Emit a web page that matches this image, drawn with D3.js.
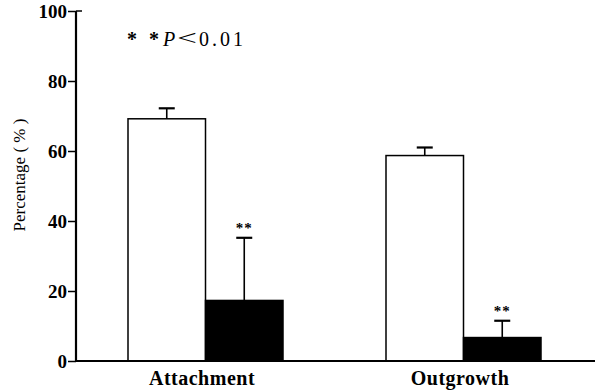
<!DOCTYPE html>
<html><head><meta charset="utf-8">
<script src="https://cdn.jsdelivr.net/npm/d3@7"></script>
<style>body{margin:0;background:#fff}svg{display:block}</style>
</head><body>
<script>
const categories = ["Attachment", "Outgrowth"];
const series = ["Control", "Treated"];
const means = [[69.2, 17.3], [58.7, 6.7]];
const errors = [[3.0, 17.9], [2.3, 4.8]];
const significant = [[false, true], [false, true]];
const yTicks = [0, 20, 40, 60, 80, 100];

const W = 603, H = 392;
const svg = d3.select("body").append("svg").attr("width", W).attr("height", H);
const font = "'Liberation Serif','DejaVu Serif',serif";

const y = d3.scaleLinear().domain([0, 100]).range([361, 11]);
const x0 = d3.scalePoint().domain(categories).range([205, 463]);
const x1 = d3.scaleBand().domain(series).range([-77, 78]).paddingInner(0);
const fills = ["#fff", "#000"];

categories.forEach((c, i) => {
  series.forEach((s, j) => {
    const bx = x0(c) + x1(s);
    const v = means[i][j], e = errors[i][j];
    const cx = bx + x1.bandwidth() / 2;
    svg.append("line").attr("x1", cx).attr("x2", cx).attr("y1", y(v)).attr("y2", y(v + e))
      .attr("stroke", "#000").attr("stroke-width", 1.6);
    svg.append("line").attr("x1", cx - 8).attr("x2", cx + 8).attr("y1", y(v + e)).attr("y2", y(v + e))
      .attr("stroke", "#000").attr("stroke-width", 2.2);
    svg.append("rect").attr("x", bx).attr("y", y(v)).attr("width", x1.bandwidth()).attr("height", y(0) - y(v))
      .attr("fill", fills[j]).attr("stroke", "#000").attr("stroke-width", 1.5);
    if (significant[i][j]) {
      svg.append("text").attr("x", cx).attr("y", y(v + e) - 5).attr("text-anchor", "middle")
        .attr("font-family", font).attr("font-weight", "bold").attr("font-size", 15)
        .attr("letter-spacing", 1).attr("fill", "#000").text("**");
    }
  });
});

// y axis
const yAxis = svg.append("g").attr("transform", "translate(76,0)")
  .call(d3.axisLeft(y).tickValues(yTicks).tickSize(8).tickPadding(1));
yAxis.attr("font-family", font);
yAxis.select(".domain").attr("stroke", "#000").attr("stroke-width", 2.2).attr("d", "M0," + y(100) + "V" + y(0));
yAxis.selectAll(".tick line").attr("stroke", "#000").attr("stroke-width", 1.5);
yAxis.selectAll(".tick text").attr("font-family", font).attr("font-size", 19).attr("font-weight", "bold").attr("fill", "#000");
svg.append("line").attr("x1", 76).attr("x2", 82).attr("y1", y(100)).attr("y2", y(100)).attr("stroke", "#000").attr("stroke-width", 1.5);

// x axis
svg.append("line").attr("x1", 75).attr("x2", 595).attr("y1", y(0)).attr("y2", y(0))
  .attr("stroke", "#000").attr("stroke-width", 2.2);
categories.forEach(c => {
  svg.append("text").attr("x", x0(c) - 3).attr("y", 385).attr("text-anchor", "middle")
    .attr("font-family", font).attr("font-size", 20).attr("font-weight", "bold")
    .attr("letter-spacing", 0.5).attr("fill", "#000").text(c);
});

// y label
svg.append("text").attr("transform", "translate(25,175) rotate(-90)").attr("text-anchor", "middle")
  .attr("font-family", font).attr("font-size", 17).attr("fill", "#000").text("Percentage ( % )");

// annotation
const ann = svg.append("g").attr("font-family", font).attr("font-size", 20).attr("fill", "#000");
ann.append("text").attr("x", 127).attr("y", 46).attr("font-weight", "bold").text("*");
ann.append("text").attr("x", 149).attr("y", 46).attr("font-weight", "bold").text("*");
ann.append("text").attr("x", 163).attr("y", 46).attr("font-style", "italic").text("P");
ann.append("text").attr("x", 177).attr("y", 45).attr("font-size", 22)
  .attr("textLength", 20).attr("lengthAdjust", "spacingAndGlyphs").text("<");
ann.append("text").attr("x", 199).attr("y", 46).attr("letter-spacing", 3).text("0.01");
</script>
</body></html>
